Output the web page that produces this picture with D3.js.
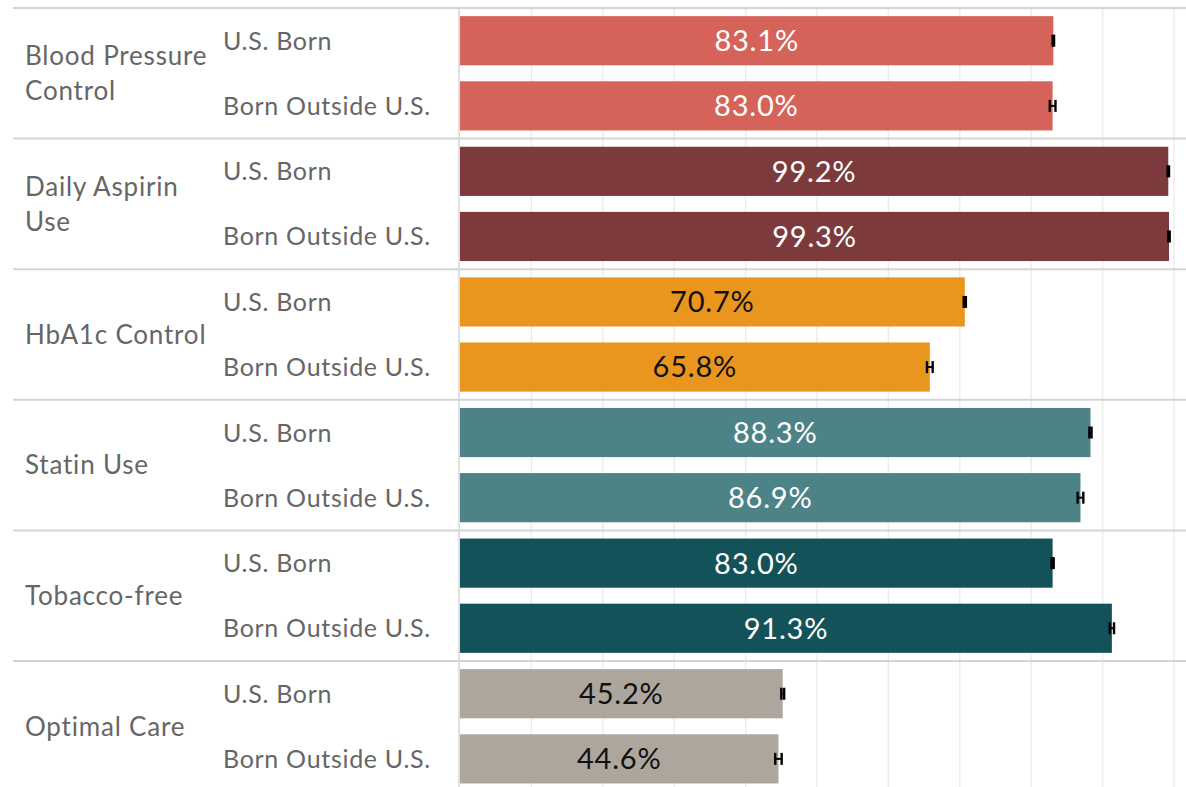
<!DOCTYPE html>
<html>
<head>
<meta charset="utf-8">
<script src="https://cdn.jsdelivr.net/npm/d3@7"></script>
<style>
	body { margin: 0; background: #fff; }
	svg { display: block; font-family: Lato, 'Noto Sans', sans-serif; }
	.grid line { stroke: #ececec; stroke-width: 1.5; }
	.sep { stroke: #d4d4d4; stroke-width: 2; }
	.cat-label { fill: #666; font-size: 26px; letter-spacing: 0.8px; }
	.sub-label { fill: #666; font-size: 25px; letter-spacing: 0.7px; }
	.val-label { font-size: 29px; letter-spacing: 0.8px; text-anchor: middle; }
	.err { stroke: #000; }
</style>
</head>
<body>
<div id="chart"></div>
<script>

var measures = ['Blood Pressure Control', 'Daily Aspirin Use', 'HbA1c Control', 'Statin Use', 'Tobacco-free', 'Optimal Care']
var groups = ['U.S. Born', 'Born Outside U.S.']

// percent values, one array per group
var usBorn = [83.1, 99.2, 70.7, 88.3, 83.0, 45.2]
var bornOutside = [83.0, 99.3, 65.8, 86.9, 91.3, 44.6]

// half width of the error bars, in percent
var usBornErr = [0.1, 0.1, 0.15, 0.15, 0.15, 0.2]
var bornOutsideErr = [0.4, 0.1, 0.4, 0.4, 0.3, 0.45]

var colors = ['#d6635a', '#7c3a3c', '#ea961e', '#4d8387', '#145259', '#ada69d']
var labelColors = ['#fff', '#fff', '#111', '#fff', '#fff', '#111']

var gridTicks = [10, 20, 30, 40, 50, 60, 70, 80, 90, 100]

var W = 1186
var H = 787

var margin = { top: 8, left: 13 }
var plotLeft = 460
var plotRight = 1174
var groupH = 130.6

var svg = d3.select('#chart').append('svg')
	.attr('width', W)
	.attr('height', H)

var x = d3.scaleLinear()
	.domain([0, 100])
	.range([plotLeft, plotRight])

var yGroup = d3.scaleBand()
	.domain(measures)
	.range([margin.top, margin.top + groupH * measures.length])

var ySub = d3.scaleBand()
	.domain(groups)
	.range([0, groupH])
	.paddingInner(0.245)
	.paddingOuter(0.125)

var rows = []
measures.forEach(function(m, i) {
	rows.push({ measure: m, group: groups[0], value: usBorn[i], err: usBornErr[i], i: i })
	rows.push({ measure: m, group: groups[1], value: bornOutside[i], err: bornOutsideErr[i], i: i })
})

// vertical gridlines
svg.append('g')
	.attr('class', 'grid')
	.selectAll('line')
	.data(gridTicks)
	.enter().append('line')
	.attr('x1', function(d) { return x(d) })
	.attr('x2', function(d) { return x(d) })
	.attr('y1', margin.top)
	.attr('y2', H)

// bars
var bars = svg.append('g')
	.selectAll('g')
	.data(rows)
	.enter().append('g')
	.attr('transform', function(d) {
		return 'translate(0,' + (yGroup(d.measure) + ySub(d.group)) + ')'
	})

bars.append('rect')
	.attr('x', x(0))
	.attr('y', 0)
	.attr('width', function(d) { return x(d.value) - x(0) })
	.attr('height', ySub.bandwidth())
	.attr('fill', function(d) { return colors[d.i] })

bars.append('text')
	.attr('class', 'val-label')
	.attr('x', function(d) { return (x(0) + x(d.value)) / 2 })
	.attr('y', ySub.bandwidth() / 2)
	.attr('dy', '0.36em')
	.attr('fill', function(d) { return labelColors[d.i] })
	.text(function(d) { return d.value.toFixed(1) + '%' })

// error bars
bars.each(function(d) {
	var g = d3.select(this)
	var cy = ySub.bandwidth() / 2
	var x0 = x(d.value - d.err)
	var x1 = x(d.value + d.err)
	g.append('line').attr('class', 'err')
		.attr('x1', x0).attr('x2', x1)
		.attr('y1', cy).attr('y2', cy)
		.attr('stroke-width', 2)
	;[x0, x1].forEach(function(cx) {
		g.append('line').attr('class', 'err')
			.attr('x1', cx).attr('x2', cx)
			.attr('y1', cy - 6).attr('y2', cy + 6)
			.attr('stroke-width', 2.4)
	})
})

// sub labels
bars.append('text')
	.attr('class', 'sub-label')
	.attr('x', 223)
	.attr('y', ySub.bandwidth() / 2)
	.attr('dy', '0.36em')
	.text(function(d) { return d.group })

// category labels, wrapped
var cats = svg.append('g')
	.selectAll('text')
	.data(measures)
	.enter().append('text')
	.attr('class', 'cat-label')
	.attr('x', 25)
	.attr('y', function(d) { return yGroup(d) + groupH / 2 })

var wrapAt = { 'Blood Pressure Control': ['Blood Pressure', 'Control'], 'Daily Aspirin Use': ['Daily Aspirin', 'Use'] }
cats.each(function(d) {
	var lines = wrapAt[d] || [d]
	var t = d3.select(this)
	var lh = 35
	lines.forEach(function(l, k) {
		t.append('tspan')
			.attr('x', 25)
			.attr('dy', k == 0 ? (0.36 * 26 - (lines.length - 1) * lh / 2) : lh)
			.text(l)
	})
})

// separators
svg.append('g')
	.selectAll('line')
	.data(measures)
	.enter().append('line')
	.attr('class', 'sep')
	.attr('x1', margin.left)
	.attr('x2', W)
	.attr('y1', function(d) { return yGroup(d) })
	.attr('y2', function(d) { return yGroup(d) })

svg.append('line')
	.attr('class', 'sep')
	.attr('x1', x(0) - 1).attr('x2', x(0) - 1)
	.attr('y1', margin.top).attr('y2', H)
	.style('stroke-width', 1.5)

</script>
</body>
</html>
